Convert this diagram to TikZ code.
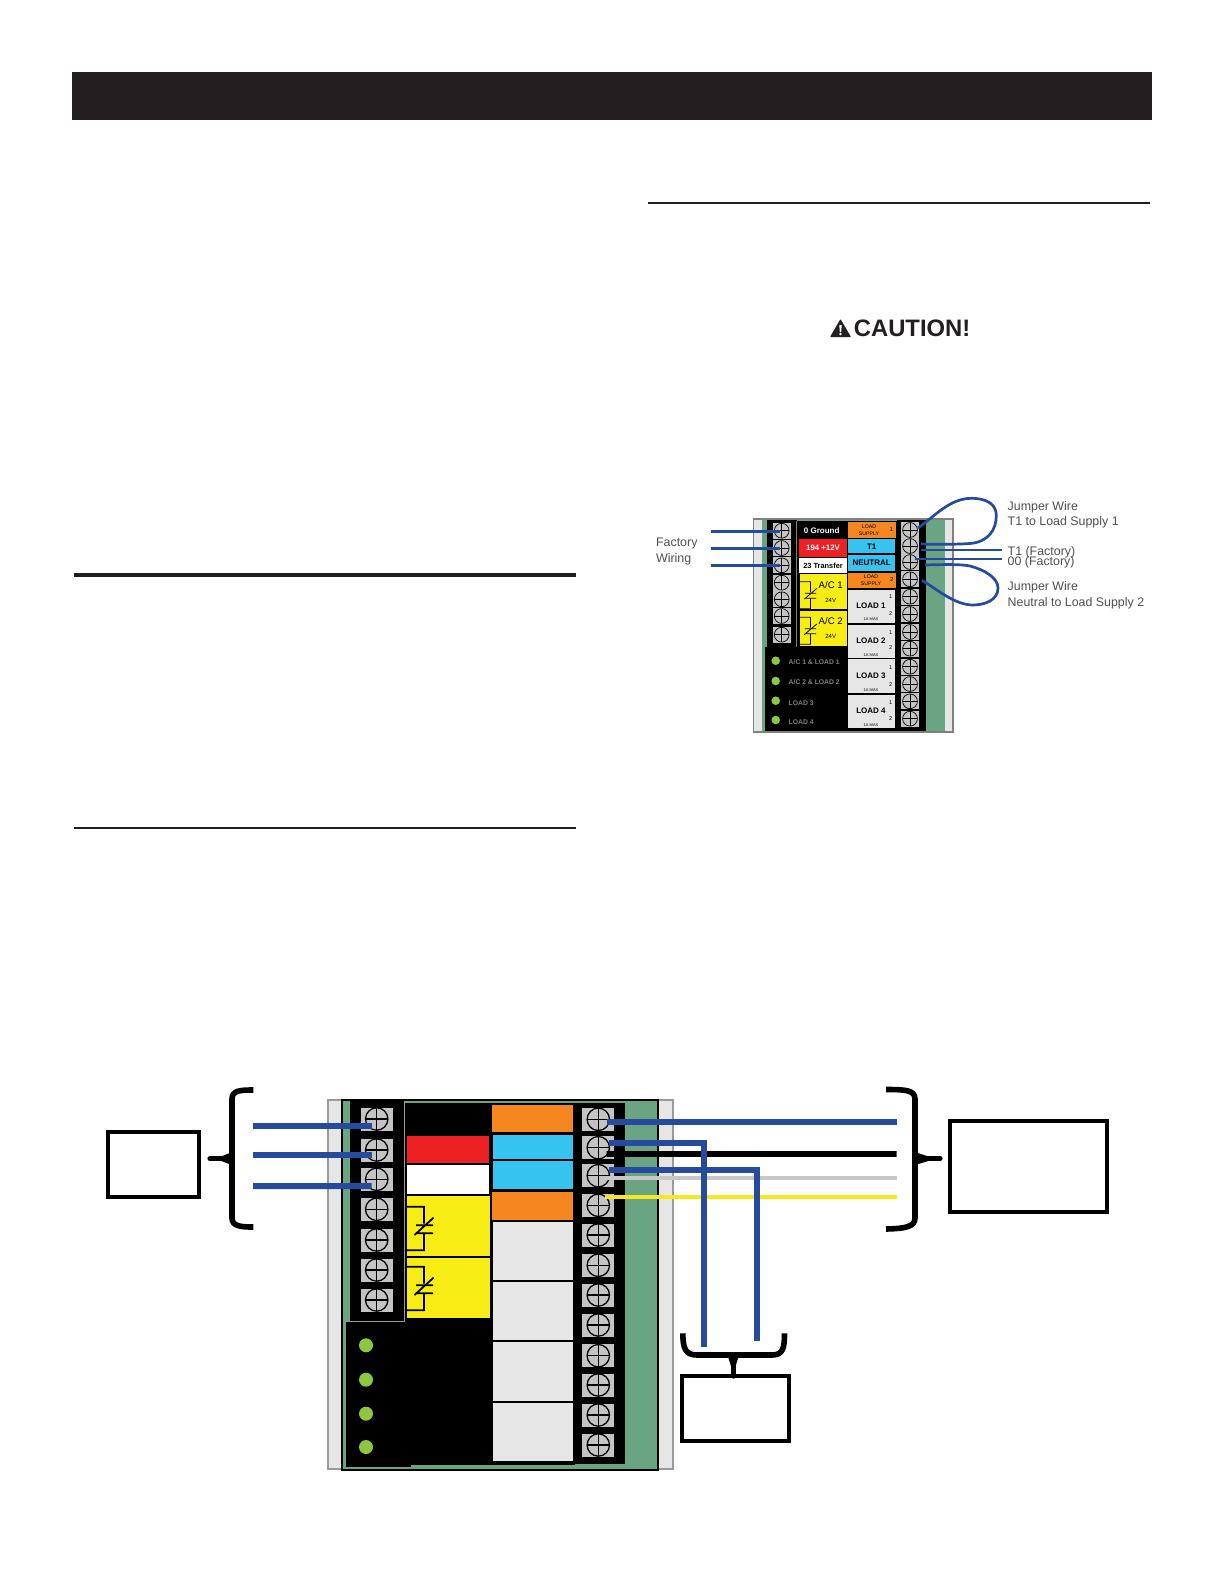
\documentclass[tikz,border=0pt]{standalone}
\usepackage{fontspec}
\setmainfont{Liberation Sans}
\usetikzlibrary{calc}
\definecolor{inkblack}{HTML}{231F20}
\definecolor{pgreen}{HTML}{6AA583}
\definecolor{pgrey}{HTML}{E6E6E6}
\definecolor{pedge}{HTML}{9A9A9A}
\definecolor{porange}{HTML}{F6861F}
\definecolor{pcyan}{HTML}{36C3F0}
\definecolor{pred}{HTML}{ED2024}
\definecolor{pyellow}{HTML}{F7EC13}
\definecolor{pled}{HTML}{8DC63F}
\definecolor{wblue}{HTML}{264A9C}
\definecolor{wgrey}{HTML}{C8C6C6}
\definecolor{wyellow}{HTML}{F8E71C}
\definecolor{tgrey}{HTML}{C4C4C4}
\definecolor{lbl}{HTML}{505050}
\newcommand{\fs}[1]{\fontsize{#1}{#1}\selectfont}
\tikzset{
 bigterm/.style={rectangle,fill=tgrey,minimum width=16pt,minimum height=11.5pt,inner sep=0pt,outer sep=0pt},
 smallterm/.style={rectangle,fill=tgrey,minimum width=9pt,minimum height=8pt,inner sep=0pt,outer sep=0pt},
 bigwire/.style={draw=wblue,line width=3pt},
 smallwire/.style={draw=wblue,line width=1.35pt},
 brace/.style={draw=black,line width=2.8pt,line join=round},
 bracetip/.style={draw=black,line width=2.6pt,line cap=round},
 emptybox/.style={draw=black,fill=white,line width=2pt,inner sep=0pt,outer sep=0pt},
 lab/.style={text=lbl,anchor=west,inner sep=0pt,font=\fontsize{6.2}{7}\selectfont},
 tiny/.style={inner sep=0pt,align=center},
 supplytext/.style={inner sep=0pt,align=center,font=\fontsize{2.6}{3.3}\selectfont},
}
\newcommand{\termmark}[3]{%
 \draw[black,line width=#3] (#1.center) circle[radius=#2];
 \draw[black,line width=#3] ([xshift=-#2]#1.center) -- ([xshift=#2]#1.center) ([yshift=-#2]#1.center) -- ([yshift=#2]#1.center);}
\begin{document}
\begin{tikzpicture}[x=0.5pt,y=-0.5pt]
\useasboundingbox (0,0) rectangle (1224,1584);
\fill[white] (0,0) rectangle (1224,1584);
% page furniture
\fill[inkblack] (72,72) rectangle (1152,120);
\fill[inkblack] (74,572.5) rectangle (576,576.5);
\fill[inkblack] (74,827) rectangle (576,829);
\fill[inkblack] (648,202) rectangle (1150,204);
% caution
\fill[inkblack,rounded corners=0.4pt] (830,337) -- (840.5,319) -- (851,337) -- cycle;
\fill[white] (839.3,325) -- (841.7,325) -- (841.2,332) -- (839.8,332) -- cycle;
\fill[white] (840.5,334) circle[radius=1.3];
\node[anchor=west,inner sep=0pt,text=inkblack] (caution) at (853.5,328.5) {\fontsize{11.9}{13}\selectfont\bfseries CAUTION!};

% ===== small diagram =====
\fill[pgrey] (753.7,519) rectangle (953,732);
\fill[pgreen] (761.7,519) rectangle (945,732);
\draw[gray,line width=0.7pt] (753.7,732) -- (753.7,519) -- (953,519) -- (953,732) -- cycle;
\fill[black] (766.7,519.5) rectangle (796.7,647);
\fill[black] (765,647) rectangle (848,730.5);
\fill[black] (796.7,521) rectangle (896.7,730.5);
\fill[black] (896.7,519.5) rectangle (926,730.5);
\draw[gray,line width=0.3pt] (796.7,521) -- (796.7,647);
\node[fill=pred,minimum width=23.7pt,minimum height=9pt,inner sep=0pt,text=white] (ured) at (823,548.3) {\fs{3.9}\bfseries 194 +12V};
\node[fill=white,minimum width=23.7pt,minimum height=7.8pt,inner sep=0pt,text=black] (uwhite) at (823,565.5) {\fs{3.7}\bfseries 23 Transfer};
\node[text=white,inner sep=0pt] (ugnd) at (821.7,530.7) {\fs{4}\bfseries 0 Ground};
\fill[pyellow] (800,574) rectangle (847.3,609.3);
\fill[pyellow] (800,610.7) rectangle (847.3,645.7);
\foreach \y in {581.7,617.2}{
\begin{scope}[shift={(800,\y)},scale=0.62,line width=0.4pt]
 \draw (0,0) -- (17,0) -- (17,17) (8,18.6) -- (26,18.6) (8,26.6) -- (26,26.6) (17,26.6) -- (17,43.6) -- (0,43.6) (7,28) -- (27,11);
\end{scope}}
\node[tiny] (uac1) at (830.7,585) {\fs{4.8}A/C 1};
\node[tiny] (uv1) at (830.7,600.7) {\fs{3}24V};
\node[tiny] (uac2) at (830.7,620.7) {\fs{4.8}A/C 2};
\node[tiny] (uv2) at (830.7,636) {\fs{3}24V};
\node[fill=porange,minimum width=23.8pt,minimum height=8.3pt,inner sep=0pt] (uor1) at (872.1,530) {};
\node[supplytext] (uor1t) at (869,530) {LOAD\\SUPPLY};
\node[tiny] (uor1n) at (891.5,529.3) {\fs{2.8}1};
\node[fill=pcyan,minimum width=23.3pt,minimum height=7pt,inner sep=0pt] (ut1) at (871.7,546.4) {\fs{4}\bfseries T1};
\node[fill=pcyan,minimum width=23.3pt,minimum height=7.9pt,inner sep=0pt] (uneu) at (871.7,562.8) {\fs{4}\bfseries NEUTRAL};
\node[fill=porange,minimum width=23.8pt,minimum height=7.8pt,inner sep=0pt] (uor2) at (872.1,580.5) {};
\node[supplytext] (uor2t) at (871,580.5) {LOAD\\SUPPLY};
\node[tiny] (uor2n) at (892,579.5) {\fs{2.8}2};
\foreach \t/\a/\b/\tx/\ia/\ib/\ic in {1/590.3/623.3/605.3/596.7/614/619,2/624.7/658.3/641/632.7/648/654.7,3/659.3/693.3/676/667.3/684.7/690,4/695/727.7/711/702.3/718.7/725}{
 \fill[pgrey] (848.3,\a) rectangle (895,\b);
 \node[tiny] (uload\t) at (871,\tx) {\fs{4}\bfseries LOAD \t};
 \node[tiny] (uload\t a) at (890.7,\ia) {\fs{2.8}1};
 \node[tiny] (uload\t b) at (890.7,\ib) {\fs{2.8}2};
 \node[tiny] (uload\t c) at (871,\ic) {\fs{2}1A MAX};
}
\foreach \y in {660.7,681,700.7,720}{\fill[pled] (775.7,\y) circle[radius=4.3];}
\node[lab,text=gray] (ual1) at (788.3,662.3) {\fs{3.4}\bfseries A/C 1 \& LOAD 1};
\node[lab,text=gray] (ual2) at (788.3,682) {\fs{3.4}\bfseries A/C 2 \& LOAD 2};
\node[lab,text=gray] (ual3) at (788.3,703) {\fs{3.4}\bfseries LOAD 3};
\node[lab,text=gray] (ual4) at (788.3,722.3) {\fs{3.4}\bfseries LOAD 4};
\foreach \i/\y in {1/530.7,2/548,3/565.3,4/582.7,5/599.3,6/616,7/634.7}{
 \node[smallterm] (ul\i) at (781.7,\y) {};
 \termmark{ul\i}{3.7pt}{0.35pt}
}
\foreach \i/\y in {1/530,2/546,3/562,4/579.3,5/596.7,6/614,7/632,8/648.7,9/666.7,10/684,11/701.3,12/718.7}{
 \node[smallterm] (ur\i) at (910,\y) {};
 \termmark{ur\i}{3.7pt}{0.35pt}
}
% small wires
\coordinate (uwa) at (710.7,531.7);
\coordinate (uwb) at (710.7,548.7);
\coordinate (uwc) at (710.7,565.7);
\draw[smallwire] (uwa) -- ($(ul1.center)+(-2,1)$);
\draw[smallwire] (uwb) -- ($(ul2.center)+(-2,0.7)$);
\draw[smallwire] (uwc) -- ($(ul3.center)+(-2,0.4)$);
\coordinate (uwt) at (1001.7,550);
\coordinate (uwo) at (1001.7,559);
\draw[smallwire] ($(ur2.center)+(11,4)$) -- (uwt);
\draw[smallwire] ($(ur3.center)+(5,-3)$) -- (uwo);
\draw[smallwire] ($(ur1.center)+(8,-2)$) .. controls (935,516) and (950,498) .. (972,498.3)
  .. controls (988,498.5) and (996,505) .. (996.3,515)
  .. controls (996.5,530) and (988,542) .. (970,543.5)
  .. controls (955,544.5) and (935,544.5) .. ($(ur2.center)+(11,-2)$);
\draw[smallwire] ($(ur3.center)+(15,3)$) .. controls (945,564.5) and (960,564) .. (970,566)
  .. controls (985,570) and (998,578) .. (998,588)
  .. controls (998,600) and (985,605) .. (973,605)
  .. controls (955,605) and (938,590) .. ($(ur4.center)+(12,1)$);
% small labels
\node[lab] (lfac) at (655.7,543.5) {Factory};
\node[lab] (lwir) at (655.7,558.8) {Wiring};
\node[lab] (ljw1) at (1007.3,506.8) {Jumper Wire};
\node[lab] (lt1l) at (1007.3,522.2) {T1 to Load Supply 1};
\node[lab] (lt1f) at (1007.3,552) {T1 (Factory)};
\node[lab] (l00f) at (1007.3,562) {00 (Factory)};
\node[lab] (ljw2) at (1007.3,587.5) {Jumper Wire};
\node[lab] (lneu) at (1007.3,602.8) {Neutral to Load Supply 2};

% ===== large diagram =====
\fill[pgrey] (328.3,1100) rectangle (673,1469);
\draw[pedge,line width=1pt] (328.3,1469) -- (328.3,1100) -- (673,1100) -- (673,1469) -- cycle;
\fill[pgreen] (342.3,1100) rectangle (658.3,1470);
\draw[black,line width=1pt] (342.3,1470) -- (342.3,1100) -- (658.3,1100) -- (658.3,1470) -- cycle;
\fill[black] (350,1100) rectangle (404.7,1321.7);
\fill[black] (404.7,1103) rectangle (575,1465);
\fill[black] (346,1321.7) rectangle (410.7,1467);
\fill[black] (575,1103) rectangle (625,1464);
\draw[pedge,line width=0.5pt] (346,1321.7) -- (404.7,1321.7) -- (404.7,1101);
\fill[porange] (491.7,1105) rectangle (572.7,1132.3);
\fill[pcyan] (493,1135) rectangle (573,1159.3);
\fill[pcyan] (493,1161.3) rectangle (573,1188.7);
\fill[porange] (491.7,1192.3) rectangle (572.7,1220);
\fill[pred] (407,1136) rectangle (488.7,1162.7);
\fill[white] (407,1165.3) rectangle (489,1194);
\fill[pyellow] (407,1196.3) rectangle (490,1255.7);
\fill[pyellow] (407,1257.7) rectangle (490,1317.7);
\foreach \a/\b in {1221.7/1280,1282/1340.3,1342/1400.7,1402.7/1460.7}{\fill[pgrey] (492.7,\a) rectangle (573,\b);}
\foreach \y in {1206.7,1266.7}{
\begin{scope}[shift={(407,\y)},line width=0.9pt]
 \draw (0,0) -- (17,0) -- (17,17) (9,18.6) -- (26,18.6) (9,26.6) -- (26,26.6) (17,26.6) -- (17,43.6) -- (0,43.6) (7.5,28.3) -- (26.5,11);
\end{scope}}
\foreach \y in {1345.3,1379.7,1413.7,1447}{\fill[pled] (366,\y) circle[radius=7];}
\foreach \i/\y in {1/1119,2/1150,3/1179.3,4/1209.3,5/1240,6/1270,7/1300}{
 \node[bigterm] (l\i) at (376.7,\y) {};
 \termmark{l\i}{5.6pt}{0.65pt}
}
\foreach \i/\y in {1/1119.3,2/1147.7,3/1175.7,4/1205.3,5/1235,6/1265.3,7/1295,8/1325,9/1355.7,10/1385,11/1415,12/1445}{
 \node[bigterm] (r\i) at (598.3,\y) {};
 \termmark{r\i}{5.6pt}{0.65pt}
}
% left wires
\coordinate (wa) at (253,1126);
\coordinate (wb) at (253,1155);
\coordinate (wc) at (253,1186);
\draw[bigwire] (wa) -- ($(l1.center)+(-5,7)$);
\draw[bigwire] (wb) -- ($(l2.center)+(-5,5)$);
\draw[bigwire] (wc) -- ($(l3.center)+(-5,6.7)$);
% right wires
\coordinate (we) at (896.7,1154);
\coordinate (wf) at (896.7,1177.7);
\coordinate (wg) at (896.7,1196.7);
\coordinate (wd) at (896.7,1121.7);
\coordinate (wh) at (703.7,1346.7);
\coordinate (wi) at (757,1340.7);
\draw[black,line width=2.8pt] ($(r2.center)+(8.4,6.3)$) -- (we);
\draw[wgrey,line width=2.2pt] ($(r3.center)+(6.7,2)$) -- (wf);
\draw[wyellow,line width=2.2pt] ($(r4.center)+(6.7,-8.6)$) -- (wg);
\draw[bigwire] ($(r1.center)+(8.4,2.4)$) -- (wd);
\draw[bigwire] ($(r2.center)+(11,-5)$) -| (wh);
\draw[bigwire] ($(r3.center)+(11,-5.7)$) -| (wi);
% boxes
\node[emptybox,minimum width=45.3pt,minimum height=32.7pt] (boxa) at (153.3,1164.3) {};
\node[emptybox,minimum width=78.7pt,minimum height=45.3pt] (boxb) at (1028.7,1166.7) {};
\node[emptybox,line width=1.8pt,minimum width=53.5pt,minimum height=32.5pt] (boxc) at (735.3,1408.3) {};
% braces
\coordinate (bta) at (210,1158.7);
\coordinate (btb) at (940,1158.7);
\coordinate (btc) at (733.3,1376);
\draw[brace] (253.3,1090) .. controls (240,1090) and (232,1090.5) .. (232,1099) -- (232,1218) .. controls (232,1226) and (240,1227) .. (253.3,1227);
\draw[bracetip] (bta) -- (225,1158.7);
\fill[black] (220,1157) -- (232,1152) -- (232,1165) -- (220,1160.5) -- cycle;
\draw[brace] (886,1089.5) .. controls (905,1089.5) and (915,1090) .. (915,1099) -- (915,1218) .. controls (915,1227) and (905,1228.5) .. (886,1229);
\draw[bracetip] (btb) -- (925,1158.7);
\fill[black] (930,1157) -- (915,1152) -- (915,1165) -- (930,1160.5) -- cycle;
\draw[brace] (682.8,1333.3) .. controls (683,1348) and (685,1355) .. (697,1355) -- (772,1355) .. controls (783,1355) and (784.5,1348) .. (784.5,1333.3);
\draw[bracetip] (btc) -- (733.3,1362);
\fill[black] (727.5,1355) -- (739,1355) -- (735,1368) -- (731.5,1368) -- cycle;
\end{tikzpicture}
\end{document}
